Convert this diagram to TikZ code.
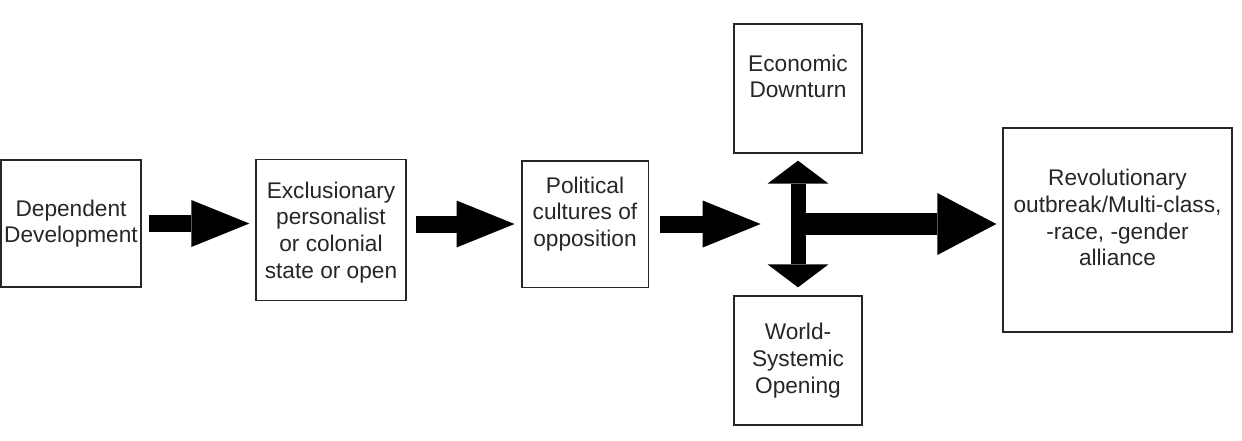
\documentclass[tikz,border=0pt]{standalone}
\usepackage{fontspec}
\setmainfont{Liberation Sans}
\usetikzlibrary{arrows.meta,positioning}

% box contents: width, height, (top pad,) text
\newcommand{\topcell}[4]{\parbox[c][#2][t]{#1}{\centering\vspace*{#3}#4}}
\newcommand{\midcell}[3]{\parbox[c][#2][c]{#1}{\centering #3}}

\begin{document}
\begin{tikzpicture}[
  x=0.75pt, y=-0.75pt,
  font=\fontsize{17}{20}\selectfont,
  box/.style={draw=black!85, line width=1pt, inner sep=0pt, text=black!85},
  fat/.style={line width=12.75pt,
    -{Triangle[length=43.5pt, width=35.25pt, line width=0pt]}},
  bigfat/.style={line width=16.5pt,
    -{Triangle[length=44.25pt, width=46.5pt, line width=0pt]}},
  updown/.style={line width=11.25pt,
    {Triangle[length=17.25pt, width=45.75pt, line width=0pt]}-{Triangle[length=17.25pt, width=45.75pt, line width=0pt]}}
]
\useasboundingbox (0,0) rectangle (1242,440);

\node[box] (dep) at (71,223.5) {\midcell{105pt}{95.25pt}{Dependent\\Development}};
\node[box] (excl) at (331,230.3) {\topcell{112.5pt}{105.75pt}{16.5pt}{Exclusionary\\personalist\\or colonial\\state or open}};
\node[box] (pol) at (585,224) {\topcell{94.75pt}{94.75pt}{12pt}{Political\\cultures of\\opposition}};
\node[box] (econ) at (798,88.5) {\topcell{96pt}{96.75pt}{23pt}{Economic\\Downturn}};
\node[box] (world) at (798,360.5) {\midcell{96pt}{96.75pt}{World-\\Systemic\\Opening}};
\node[box] (rev) at (1117.5,230)
  {\topcell{171.75pt}{153pt}{31pt}{Revolutionary\\outbreak/Multi-class,\\-race, -gender\\alliance}};

\coordinate (hub) at (econ.south |- pol.center);

\draw[fat, shorten <=5.25pt, shorten >=4.5pt] (dep.east) -- (dep.east -| excl.west);
\draw[fat, shorten <=6.75pt, shorten >=5pt] (excl.east |- pol.west) -- (pol.west);
\draw[fat, shorten <=8.25pt, shorten >=28pt] (pol.east) -- (hub);
\draw[updown, shorten <=5.25pt, shorten >=6pt] (econ.south) -- (world.north);
\draw[bigfat, shorten >=4.5pt] (hub) -- (hub -| rev.west);
\end{tikzpicture}
\end{document}
